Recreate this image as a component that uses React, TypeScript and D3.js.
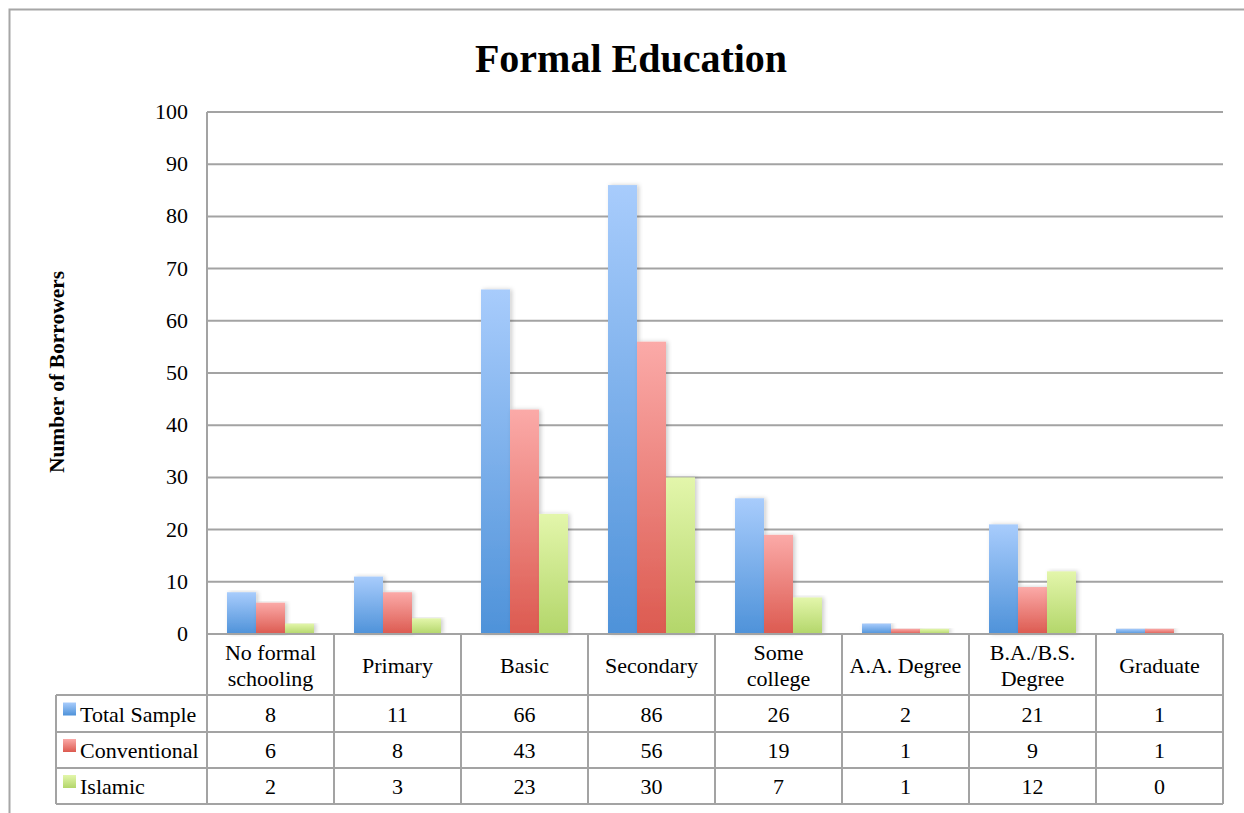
import React from "react";
import * as d3 from "d3";

// Education levels (x categories)
const categories: string[][] = [
  ["No formal", "schooling"],
  ["Primary"],
  ["Basic"],
  ["Secondary"],
  ["Some", "college"],
  ["A.A. Degree"],
  ["B.A./B.S.", "Degree"],
  ["Graduate"],
];

const seriesNames = ["Total Sample", "Conventional", "Islamic"];
const totalSample = [8, 11, 66, 86, 26, 2, 21, 1];
const conventional = [6, 8, 43, 56, 19, 1, 9, 1];
const islamic = [2, 3, 23, 30, 7, 1, 12, 0];
const seriesValues = [totalSample, conventional, islamic];

const yTicks = [0, 10, 20, 30, 40, 50, 60, 70, 80, 90, 100];

const gradients = [
  { id: "gBlue", top: "#a8ccfc", bottom: "#4e92d9" },
  { id: "gRed", top: "#fbaaa8", bottom: "#dc5a50" },
  { id: "gGreen", top: "#e3f6ab", bottom: "#b3d66a" },
];

const W = 1244;
const H = 813;
const plotLeft = 207;
const plotRight = 1223;
const plotTop = 112;
const plotBottom = 634;
const legendLeft = 56;
const rowLines = [634, 695, 732, 768, 804];
const gridColor = "#a3a3a3";
const font = "'Liberation Serif', 'Times New Roman', serif";
const fs = 22;

export default function App() {
  const x = d3
    .scaleBand<number>()
    .domain(d3.range(categories.length))
    .range([plotLeft, plotRight]);
  const inner = d3
    .scaleBand<number>()
    .domain(d3.range(seriesNames.length))
    .range([0, x.bandwidth()])
    .paddingOuter(0.69)
    .paddingInner(0);
  const y = d3.scaleLinear().domain([0, 100]).range([plotBottom, plotTop]);

  return (
    <svg
      width={W}
      height={H}
      style={{ position: "absolute", left: 0, top: 0, background: "#fff" }}
      fontFamily={font}
    >
      <defs>
        {gradients.map((g) => (
          <linearGradient key={g.id} id={g.id} x1="0" y1="0" x2="0" y2="1">
            <stop offset="0%" stopColor={g.top} />
            <stop offset="100%" stopColor={g.bottom} />
          </linearGradient>
        ))}
        <filter id="shadow" x="-20%" y="-5%" width="140%" height="110%">
          <feDropShadow dx="2" dy="0" stdDeviation="2" floodColor="#000" floodOpacity="0.2" />
        </filter>
      </defs>

      {/* outer frame */}
      <rect x={9.5} y={9.5} width={W + 20} height={H + 20} fill="#fff" stroke="#a6a6a6" strokeWidth={2} />

      {/* title */}
      <text x={631} y={72} textAnchor="middle" fontSize={40} fontWeight="bold" fill="#000">
        Formal Education
      </text>

      {/* y axis title */}
      <text
        transform={`translate(64, ${372}) rotate(-90)`}
        textAnchor="middle"
        fontSize={21.5}
        fontWeight="bold"
        fill="#000"
      >
        Number of Borrowers
      </text>

      {/* gridlines and tick labels */}
      {yTicks.map((t) => (
        <g key={t}>
          {t > 0 && (
            <line x1={plotLeft} x2={plotRight} y1={y(t)} y2={y(t)} stroke={gridColor} strokeWidth={2} />
          )}
          <text x={188} y={y(t) + 7} textAnchor="end" fontSize={fs} fill="#000">
            {t}
          </text>
        </g>
      ))}
      <line x1={plotLeft} x2={plotLeft} y1={plotTop} y2={plotBottom} stroke={gridColor} strokeWidth={2} />

      {/* bars */}
      {seriesValues.map((vals, s) =>
        vals.map((v, i) => (
          <rect
            key={`${s}-${i}`}
            x={(x(i) as number) + (inner(s) as number)}
            y={y(v)}
            width={inner.bandwidth()}
            height={plotBottom - y(v)}
            fill={`url(#${gradients[s].id})`}
            filter="url(#shadow)"
          />
        ))
      )}

      {/* data table */}
      <g stroke={gridColor} strokeWidth={2} fill="none">
        <line x1={plotLeft} x2={plotRight} y1={rowLines[0]} y2={rowLines[0]} />
        {rowLines.slice(1).map((ry) => (
          <line key={ry} x1={legendLeft} x2={plotRight} y1={ry} y2={ry} />
        ))}
        <line x1={legendLeft} x2={legendLeft} y1={rowLines[1]} y2={rowLines[4]} />
        {d3.range(categories.length + 1).map((i) => {
          const bx = i < categories.length ? (x(i) as number) : plotRight;
          return <line key={i} x1={bx} x2={bx} y1={plotBottom} y2={rowLines[4]} />;
        })}
      </g>

      {/* category labels */}
      {categories.map((lines, i) => {
        const cx = (x(i) as number) + x.bandwidth() / 2;
        const mid = (rowLines[0] + rowLines[1]) / 2;
        return (
          <text key={i} x={cx} textAnchor="middle" fontSize={fs} fill="#000">
            {lines.map((ln, k) => (
              <tspan key={k} x={cx} y={mid + 8 + (k - (lines.length - 1) / 2) * 26}>
                {ln}
              </tspan>
            ))}
          </text>
        );
      })}

      {/* legend column and values */}
      {seriesNames.map((name, s) => {
        const top = rowLines[s + 1];
        const bottom = rowLines[s + 2];
        const mid = (top + bottom) / 2;
        return (
          <g key={name}>
            <rect x={63} y={mid - 11} width={13} height={13} fill={`url(#${gradients[s].id})`} />
            <text x={80} y={mid + 8} fontSize={fs} fill="#000">
              {name}
            </text>
            {seriesValues[s].map((v, i) => (
              <text
                key={i}
                x={(x(i) as number) + x.bandwidth() / 2}
                y={mid + 8}
                textAnchor="middle"
                fontSize={fs}
                fill="#000"
              >
                {v}
              </text>
            ))}
          </g>
        );
      })}
    </svg>
  );
}
